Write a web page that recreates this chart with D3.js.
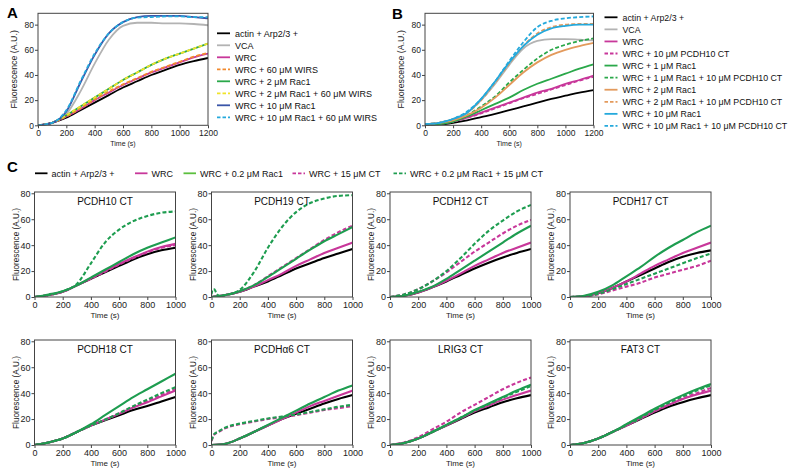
<!DOCTYPE html>
<html><head><meta charset="utf-8">
<script src="https://cdn.jsdelivr.net/npm/d3@7"></script>
<style>body{margin:0;background:#fff}svg{display:block;font-family:"Liberation Sans",Arial,Helvetica,sans-serif}</style>
</head><body><svg id="c" width="800" height="476"></svg>
<script>
// ---------- DATA ----------
const tAB = [0,100,200,300,400,500,600,700,800,900,1000,1100,1200];
// Panel A
const aActin   = [0,2,6,12,18,24,30,35,40,44,48,51,53.5];
const aVCA     = [0,2,9,27,49,68,79,81.5,81.5,81,81,80.5,79.5];
const aWRC     = [0,2,7,13,20,26,32,37,42,46,50,54,57];
const aWIRS    = [0,2,7,13.5,20.5,27,32.5,37.5,42.5,46.5,50.5,54.5,57.5];
const aRac2    = [0,2,8,15,22,29,36,42,48,53,57,61,65];
const aRac2W   = [0,2,8,15,22,29,36,42,48,53,57,61,65];
const aRac10   = [0,2,11,34,56,73,82,86,87,87,87,86,85];
const aRac10W  = [0,2,12,35,57,73,82,85.5,86,86.5,86.5,86,86];
// Panel B
const bActin   = [0,0.5,2,4,6.5,9,12,15,18,21,23.5,26,28];
const bVCA     = [1,2,5,10,20,33,48,61,67,68.5,68.5,68,67.5];
const bWRC     = [0,1,3,6,10,14,18,22,26,29,33,36,39.5];
const bWRCct   = [0,1,3,6,9.5,13.5,17.5,21.5,25,28.5,32,35.5,38.5];
const bRac1    = [0,1,3,7,12,17,22,28,33,37,41,45,48.5];
const bRac1ct  = [0,1,3,8,15,23,34,44,53,60,64,67,69];
const bRac2    = [1,2,4,8,14,22,32,42,50,56,60,63,65.5];
const bRac2ct  = [1,2,5,10,20,34,49,63,73,78,80,80.5,80.5];
const bRac10   = [1,2,5,10,21,35,50,63,72,77,79,80,80];
const bRac10ct = [1,2,5,11,21,35,51,66,78,83,85,86,86.5];
// Panel C
const tC = [0,100,200,300,400,500,600,700,800,900,1000];
const tBump19 = [0,10,20,30,45,60,100,200,300,400,500,600,700,800,900,1000];
const tBumpA6 = [0,20,50,100,200,300,400,500,600,700,800,900,1000];
const tBumpF3 = [0,100,200,300,400,420,440,460,500,600,700,800,900,1000];
const cTitles = ["PCDH10 CT","PCDH19 CT","PCDH12 CT","PCDH17 CT","PCDH18 CT","PCDH\u03b16 CT","LRIG3 CT","FAT3 CT"];
// each: actin, WRC, WRC+Rac1, WRC+CT, WRC+Rac1+CT
const c10 = {actin:[0,1.5,4,9,14,19,24,29,33,36,38], wrc:[0,1.5,4,9,14.5,20,25.5,30.5,35,38.5,41],
  rac:[0,2,4.5,9,15,21,27,33,38,42,46], ct:[0,1.5,4,9,14,19.5,25,30,34.5,38,40], racct:[0,1.5,4.5,10,26,42,52,58.5,62.5,65,66]};
const c19 = {actin:[0,1.5,4,8,12,17,22,26,30,33.5,37], wrc:[0,1.5,4,8,13,18,24,29,34,38,42],
  rac:[0,1.5,4.5,9,15.5,22.5,29.5,36.5,43,48.5,54], ct:[0,1.5,4.5,9,16,23,30,37,44,50,55],
  racct:[2,6,6,4,1.5,1,1.5,5.5,19,38,54,65.5,72.5,76,78,78.5]};
const c12 = {actin:[0,1,3.5,7.5,12,17,22,26.5,30.5,34,37], wrc:[0,1,3.5,7.5,12.5,18,24,29,34,38,42],
  rac:[0,1,4,8,14,21,28,35,42,49,55], ct:[0,2,6,12,19,27,35,42,49,55,59.5], racct:[0,2,6,12,20,30,41,51,59,66,71]};
const c17 = {actin:[0,0.5,3,7,12,17,22,27,31,34,36], wrc:[0,0.5,3,7,12,18,24,29,34,38,42],
  rac:[0,1,4,9,16,23,31,38,44,50,55], ct:[0,0.5,2,5,8,11,15,18,21,24,28], racct:[0,0.5,2.5,6,10,14,18,22,26,30,33.5]};
const c18 = {actin:[0,2,5,10,15,19,23,27,30,33.5,37], wrc:[0,2,5,10,15,19.5,24,29,33,37.5,42],
  rac:[0,2,5,10,16,23,30,37,43,49,55], ct:[0,2,5,10,15,19.5,24.5,29.5,34,38.5,43], racct:[0,2,5,10,15,19.5,24.5,30,35,40,44.5]};
const cA6 = {actin:[0,1,5,10,15,20,24,28,32,35.5,38.5], wrc:[0,1,5,10,15,20,25,30,34,38,42],
  rac:[0,1,5,10,15.5,21,26.5,32,37,42,46], ct:[3,8,10,13,16,18,20,21.5,23,25,27,28.5,30],
  racct:[3.5,8.5,10.5,13.5,16.5,18.5,20.5,22,23.5,25.5,27.5,29.5,31]};
const cL3 = {actin:[0,1.5,5,10,15,20,25,29,33,36,38.5], wrc:[0,1.5,5,10,15,20.5,26,30.5,35,38.5,42],
  rac:[0,1.5,5,10,15.5,21,27,32,37,42,46.5], ct:[0,2,6,12,18,25,31,37,43,48,52], racct:[0,1.5,5,10,15.5,21,26.5,31.5,36.5,41,45.5]};
const cF3 = {actin:[0,1.5,5,10,15,20,25,29.5,33,36,38.5], wrc:[0,1.5,5,10,15,20.5,26,31,35.5,39,42],
  rac:[0,1.5,5,10,16,22,28,33.5,38.5,43,47], ct:[0,1.5,5,10,15,20.5,26,31,36,40,44],
  racct:[0,1.5,5,10,15.5,17,18,18.5,21,27,32.5,37.5,42,46]};
const cData = [c10,c19,c12,c17,c18,cA6,cL3,cF3];
const cTimes = [ {}, {racct:tBump19}, {}, {}, {}, {ct:tBumpA6, racct:tBumpA6}, {}, {racct:tBumpF3} ];

const legA = ["actin + Arp2/3 +","VCA","WRC","WRC + 60 \u03bcM WIRS","WRC + 2 \u03bcM Rac1","WRC + 2 \u03bcM Rac1 + 60 \u03bcM WIRS","WRC + 10 \u03bcM Rac1","WRC + 10 \u03bcM Rac1 + 60 \u03bcM WIRS"];
const legB = ["actin + Arp2/3 +","VCA","WRC","WRC + 10 \u03bcM PCDH10 CT","WRC + 1 \u03bcM Rac1","WRC + 1 \u03bcM Rac1 + 10 \u03bcM PCDH10 CT","WRC + 2 \u03bcM Rac1","WRC + 2 \u03bcM Rac1 + 10 \u03bcM PCDH10 CT","WRC + 10 \u03bcM Rac1","WRC + 10 \u03bcM Rac1 + 10 \u03bcM PCDH10 CT"];
const legC = ["actin + Arp2/3 +","WRC","WRC + 0.2 \u03bcM Rac1","WRC + 15 \u03bcM CT","WRC + 0.2 \u03bcM Rac1 + 15 \u03bcM CT"];
const ticksAB_x = [0,200,400,600,800,1000,1200];
const ticksC_x = [0,200,400,600,800,1000];
const ticksY = [0,20,40,60,80];

// ---------- STYLES ----------
const K="#000", GR="#b3b3b3", MG="#c8379a", OR="#f28a2e", GN="#2aa84a", YL="#f0e32a", BL="#3a55a8", CY="#25a9dc";
const ORB="#e39a5c", GNC="#1e9d50", GNL="#5cbf3e";
const stylesA = [[K,0],[GR,0],[MG,0],[OR,1],[GN,0],[YL,1],[BL,0],[CY,1]];
const stylesB = [[K,0],[GR,0],[MG,0],[MG,1],[GN,0],[GN,1],[ORB,0],[ORB,1],[CY,0],[CY,1]];
const stylesC = [[K,0],[MG,0],[GNL,0],[MG,1],[GNC,1]];
const seriesA = [aActin,aVCA,aWRC,aWIRS,aRac2,aRac2W,aRac10,aRac10W];
const seriesB = [bActin,bVCA,bWRC,bWRCct,bRac1,bRac1ct,bRac2,bRac2ct,bRac10,bRac10ct];
const drawOrderA = [1,0,2,3,4,5,6,7];
const drawOrderB = [1,0,2,3,4,5,6,7,8,9];

const svg = d3.select("#c");
const DASH = "4,2.2";
let clipN = 0;

function panel(o){
  const g = svg.append("g");
  const x = d3.scaleLinear().domain(o.xd).range(o.xr);
  const y = d3.scaleLinear().domain(o.yd).range(o.yr);
  const line = d3.line().x(d=>x(d[0])).y(d=>y(d[1])).curve(d3.curveMonotoneX);
  const clip = "clip"+(clipN++);
  g.append("clipPath").attr("id",clip).append("rect").attr("x",o.xr[0]).attr("y",o.yr[1]).attr("width",o.xr[1]-o.xr[0]).attr("height",o.yr[0]-o.yr[1]);
  const lg = g.append("g").attr("clip-path",`url(#${clip})`);
  o.lines.forEach(L=>{
    lg.append("path").datum(L.t.map((t,i)=>[t,L.v[i]])).attr("d",line).attr("fill","none")
      .attr("stroke",L.c).attr("stroke-width",o.sw).attr("stroke-dasharray",L.d?DASH:null).attr("stroke-linecap","butt");
  });
  g.append("rect").attr("x",o.xr[0]).attr("y",o.yr[1]).attr("width",o.xr[1]-o.xr[0]).attr("height",o.yr[0]-o.yr[1])
    .attr("fill","none").attr("stroke","#444").attr("stroke-width",1);
  const ax = g.append("g").attr("transform",`translate(0,${o.yr[0]})`).call(d3.axisBottom(x).tickValues(o.xt).tickFormat(d3.format("d")).tickSize(3).tickPadding(2));
  const ay = g.append("g").attr("transform",`translate(${o.xr[0]},0)`).call(d3.axisLeft(y).tickValues(ticksY).tickFormat(d3.format("d")).tickSize(3).tickPadding(1));
  [ax,ay].forEach(a=>{a.select(".domain").remove();a.selectAll("line").attr("stroke","#444");
    a.selectAll("text").attr("font-size",o.tf).attr("fill","#222").attr("font-family","Liberation Sans, Arial, sans-serif");});
  g.append("text").attr("x",(o.xr[0]+o.xr[1])/2).attr("y",o.yr[0]+o.xlOff).attr("text-anchor","middle")
    .attr("font-size",o.xlf).attr("fill","#222").text("Time (s)");
  g.append("text").attr("transform",`translate(${o.xr[0]-o.ylOff},${(o.yr[0]+o.yr[1])/2}) rotate(-90)`)
    .attr("text-anchor","middle").attr("font-size",o.ylf).attr("fill","#222").text("Fluorescence (A.U.)");
  if(o.title) g.append("text").attr("x",(o.xr[0]+o.xr[1])/2).attr("y",o.yr[1]+13).attr("text-anchor","middle")
    .attr("font-size",10).attr("fill","#111").text(o.title);
}

// Panel A
panel({xd:[0,1200],xr:[38,208],yd:[0,89],yr:[125.3,13.3],xt:ticksAB_x,sw:1.8,tf:8.5,xlf:7,ylf:8.8,xlOff:21,ylOff:21,
  lines:drawOrderA.map(i=>({t:tAB,v:seriesA[i],c:stylesA[i][0],d:stylesA[i][1]}))});
// Panel B
panel({xd:[0,1200],xr:[425,593.5],yd:[0,89],yr:[125.3,13.3],xt:ticksAB_x,sw:1.8,tf:8.5,xlf:7,ylf:8.8,xlOff:21,ylOff:21,
  lines:drawOrderB.map(i=>({t:tAB,v:seriesB[i],c:stylesB[i][0],d:stylesB[i][1]}))});

// Panel C
const cx0 = [34.5,211.5,390,570];
const cy0 = [297,445];
const keys = ["actin","wrc","ct","rac","racct"];
cData.forEach((D,k)=>{
  const col=k%4,row=Math.floor(k/4);
  const idx = {actin:0,wrc:1,rac:2,ct:3,racct:4};
  panel({xd:[0,1000],xr:[cx0[col],cx0[col]+141],yd:[0,81],yr:[cy0[row],cy0[row]-105],xt:ticksC_x,sw:2.1,tf:9,xlf:8,ylf:8.2,xlOff:21,ylOff:16,
    title:cTitles[k],
    lines:keys.map(s=>({t:(cTimes[k][s]||tC),v:D[s],c:(s==="rac"?GNC:stylesC[idx[s]][0]),d:stylesC[idx[s]][1]}))});
});

// Legends
function legendV(x0,y0,dy,labels,styles,fs){
  labels.forEach((t,i)=>{
    const y=y0+i*dy;
    svg.append("line").attr("x1",x0).attr("x2",x0+13).attr("y1",y).attr("y2",y).attr("stroke",styles[i][0])
      .attr("stroke-width",1.8).attr("stroke-dasharray",styles[i][1]?"3.5,2":null);
    svg.append("text").attr("x",x0+18).attr("y",y+3.2).attr("font-size",fs).attr("fill","#111").text(t);
  });
}
legendV(217,33.3,12,legA,stylesA,9);
legendV(604.5,17.3,12.07,legB,stylesB,8.8);
const legCx = [35,135,183.5,292.5,393.5];
legC.forEach((t,i)=>{
  const x0=legCx[i], y=173.3;
  svg.append("line").attr("x1",x0).attr("x2",x0+12.5).attr("y1",y).attr("y2",y).attr("stroke",stylesC[i][0])
    .attr("stroke-width",1.8).attr("stroke-dasharray",stylesC[i][1]?"3.5,2":null);
  svg.append("text").attr("x",x0+16.5).attr("y",y+3.2).attr("font-size",9).attr("fill","#111").text(t);
});

// Panel letters
[["A",7,18],["B",392,19],["C",7,172]].forEach(([t,x,y])=>svg.append("text").attr("x",x).attr("y",y)
  .attr("font-size",15).attr("font-weight","bold").attr("fill","#000").text(t));
</script></body></html>
